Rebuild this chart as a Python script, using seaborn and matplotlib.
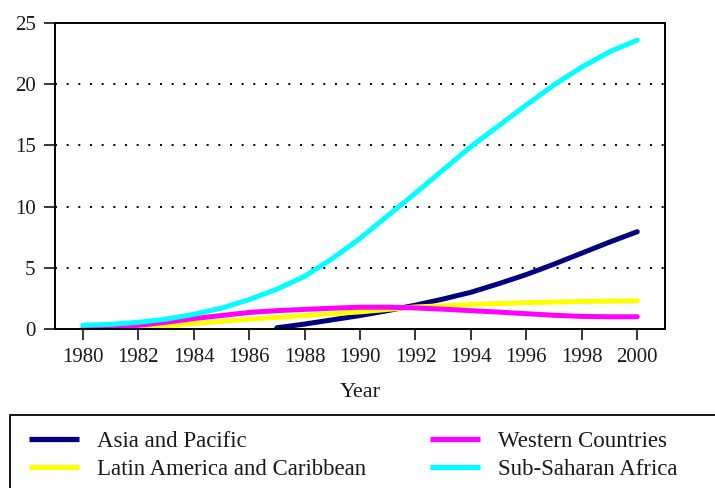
import matplotlib
matplotlib.use("Agg")
import matplotlib.pyplot as plt
from matplotlib.patches import Rectangle
import seaborn as sns
import pandas as pd
import numpy as np

sns.set_theme(style="white")
plt.rcParams['font.family'] = ['Liberation Serif', 'DejaVu Serif']

# Data
years = list(range(1980, 2001))
asia_pacific = [np.nan] * 7 + [0.1, 0.4, 0.75, 1.1, 1.5, 1.95, 2.45, 3.0, 3.7, 4.45, 5.3, 6.2, 7.1, 7.95]
latin_america = [np.nan, np.nan, 0.05, 0.25, 0.45, 0.62, 0.8, 0.95, 1.1, 1.25, 1.4, 1.6, 1.8, 1.9, 2.0, 2.08, 2.15, 2.2, 2.25, 2.28, 2.3]
western = [0.0, 0.1, 0.3, 0.55, 0.85, 1.1, 1.35, 1.5, 1.6, 1.7, 1.78, 1.78, 1.72, 1.62, 1.5, 1.38, 1.25, 1.12, 1.03, 1.0, 1.0]
sub_saharan = [0.3, 0.38, 0.55, 0.8, 1.2, 1.7, 2.4, 3.25, 4.3, 5.75, 7.4, 9.25, 11.1, 13.0, 14.9, 16.6, 18.3, 19.95, 21.4, 22.65, 23.6]

regions = ["Asia and Pacific", "Latin America and Caribbean", "Western Countries", "Sub-Saharan Africa"]
colors = ["#000080", "#ffff00", "#ff00ff", "#00ffff"]

df = pd.DataFrame({
    "Year": years * 4,
    "Value": asia_pacific + latin_america + western + sub_saharan,
    "Region": sum([[r] * len(years) for r in regions], []),
}).dropna()

fig = plt.figure(figsize=(7.15, 4.88), dpi=100)
ax = fig.add_axes([55 / 715, 1 - 329 / 488, 610 / 715, 306 / 488])

sns.lineplot(data=df, x="Year", y="Value", hue="Region", hue_order=regions,
             palette=dict(zip(regions, colors)), linewidth=3.6, ax=ax, legend=True)

ax.set_xlim(1979, 2001)
ax.set_ylim(0, 25)
ax.set_xticks(range(1980, 2001, 2))
ax.set_yticks(range(0, 26, 5))
ax.tick_params(axis="both", labelsize=15, length=8, width=1.1, direction="out",
               color="black", labelcolor="#1a1a1a", bottom=True, left=True)
ax.tick_params(axis="x", pad=6)
ax.tick_params(axis="y", pad=6)
ax.set_xlabel("Year", fontsize=16, color="#1a1a1a", labelpad=11)
ax.set_ylabel("")
for s in ax.spines.values():
    s.set_color("black")
    s.set_linewidth(1.4)

for v in [5, 10, 15, 20]:
    ax.axhline(v, color="black", linestyle=(0, (1, 5)), linewidth=1.4, zorder=0)

handles, labels = ax.get_legend_handles_labels()
ax.get_legend().remove()
leg = fig.legend(handles, labels, loc="upper left", bbox_to_anchor=(29 / 715, 1 - 431 / 488),
                 ncol=2, fontsize=16.5, frameon=False, handlelength=2.2, handletextpad=0.75,
                 labelspacing=0.3, columnspacing=2.8, borderpad=0, borderaxespad=0)
for line in leg.get_lines():
    line.set_linewidth(3.8)
    line.set_solid_capstyle("butt")
for t in leg.get_texts():
    t.set_color("#1a1a1a")

# legend box runs off the right and bottom edges of the figure
fig.patches.append(Rectangle((10 / 715, -0.1), 1.0, 1 - 415 / 488 + 0.1, transform=fig.transFigure,
                             fill=False, edgecolor="black", linewidth=1.3))

fig.savefig("out.png", dpi=100)
